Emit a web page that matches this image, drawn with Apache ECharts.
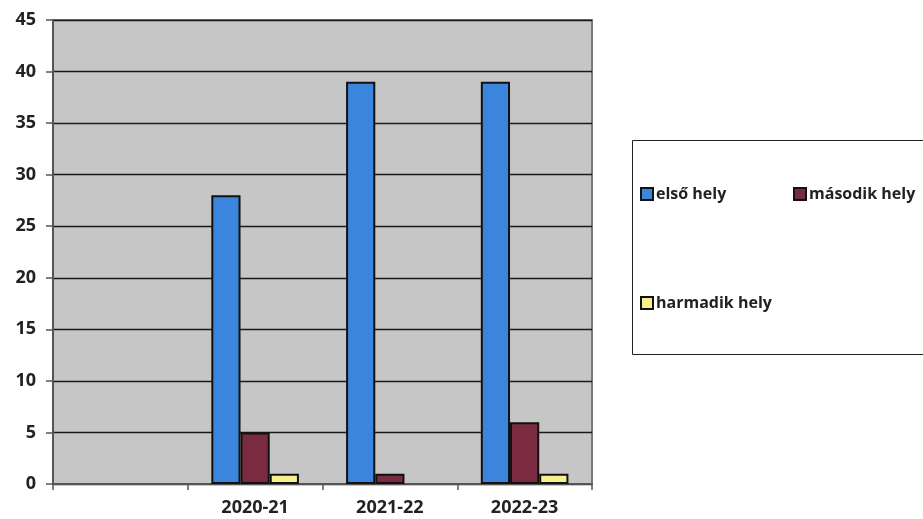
<!DOCTYPE html>
<html><head><meta charset="utf-8">
<script src="https://cdn.jsdelivr.net/npm/echarts@6/dist/echarts.min.js"></script>
<style>html,body{margin:0;padding:0;background:#fff}#c{width:923px;height:519px}</style>
</head><body><div id="c"></div>
<script>
const categories = ['', '2020-21', '2021-22', '2022-23'];
const seriesNames = ['első hely', 'második hely', 'harmadik hely'];
const elso = [null, 28, 39, 39];
const masodik = [null, 5, 1, 6];
const harmadik = [null, 1, null, 1];
const yTicks = [0, 5, 10, 15, 20, 25, 30, 35, 40, 45];

const colors = ['#3b86dc', '#7b2b3f', '#f6f08c'];
const font = '"Open Sans", Lato, sans-serif';
const chart = echarts.init(document.getElementById('c'));
const legendBase = {
  icon: 'rect', itemWidth: 12, itemHeight: 12, itemGap: 0, padding: 0,
  textStyle: { fontFamily: font, fontWeight: 'bold', fontSize: 16, color: '#222', padding: [0, 0, 0, -2] },
  selectedMode: false
};
chart.setOption({
  animation: false,
  backgroundColor: '#fff',
  graphic: [{ type: 'rect', shape: { x: 632.5, y: 140.5, width: 300, height: 214 },
    style: { fill: '#fff', stroke: '#222', lineWidth: 1 }, z: -1 }],
  legend: [
    Object.assign({ data: [seriesNames[0]], left: 640, top: 186 }, legendBase),
    Object.assign({ data: [seriesNames[1]], left: 793, top: 186 }, legendBase),
    Object.assign({ data: [seriesNames[2]], left: 640, top: 295 }, legendBase)
  ],
  grid: { left: 53, top: 20, right: 331, bottom: 35, show: true,
    backgroundColor: '#c6c6c6', borderColor: '#7a7a7a', borderWidth: 2 },
  xAxis: {
    type: 'category', data: categories,
    axisLine: { lineStyle: { color: '#555', width: 2 } },
    axisTick: { show: true, length: 6, lineStyle: { color: '#555', width: 1.5 } },
    axisLabel: { fontFamily: font, fontWeight: 'bold', fontSize: 18, color: '#222', margin: 15 }
  },
  yAxis: {
    type: 'value', min: yTicks[0], max: yTicks[yTicks.length - 1], interval: 5,
    axisLine: { show: true, lineStyle: { color: '#555', width: 2 } },
    axisTick: { show: true, length: 7, lineStyle: { color: '#555', width: 1.5 } },
    axisLabel: { fontFamily: font, fontWeight: 'bold', fontSize: 18, color: '#222', margin: 17 },
    splitLine: { lineStyle: { color: '#1a1a1a', width: 1.3 } }
  },
  series: [
    { name: seriesNames[0], type: 'bar', data: elso, barGap: '0%', barCategoryGap: '35%',
      itemStyle: { color: colors[0], borderColor: '#111', borderWidth: 2 } },
    { name: seriesNames[1], type: 'bar', data: masodik,
      itemStyle: { color: colors[1], borderColor: '#111', borderWidth: 2 } },
    { name: seriesNames[2], type: 'bar', data: harmadik,
      itemStyle: { color: colors[2], borderColor: '#111', borderWidth: 2 } }
  ]
});
</script></body></html>
